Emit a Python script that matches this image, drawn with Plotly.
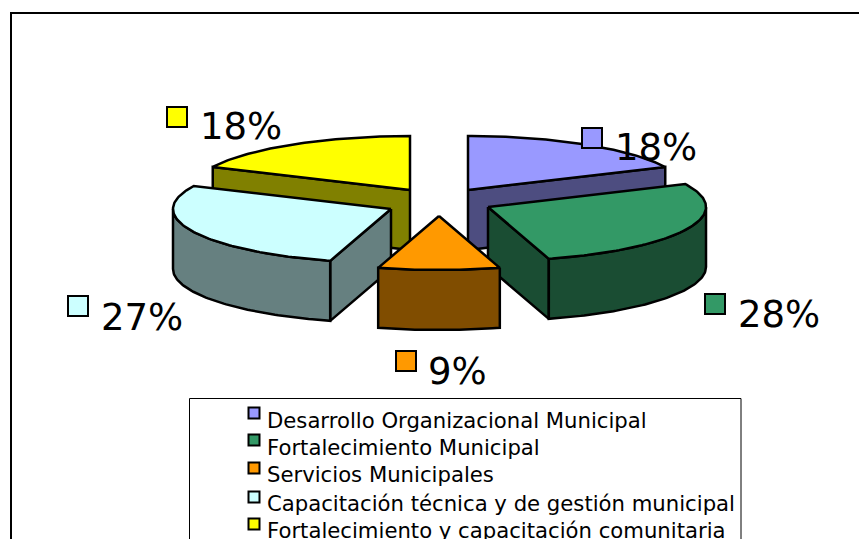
import numpy as np
import plotly.graph_objects as go

categories = ["Desarrollo Organizacional Municipal", "Fortalecimiento Municipal", "Servicios Municipales",
              "Capacitación técnica y de gestión municipal", "Fortalecimiento y capacitación comunitaria"]
percent_labels = ["18%", "28%", "9%", "27%", "18%"]
values = [18, 27.5, 9, 27.5, 18]
top_colors = ["#9999FF", "#339966", "#FF9900", "#CCFFFF", "#FFFF00"]
wall_colors = ["#4D4D80", "#1A4D33", "#804D00", "#668080", "#808000"]

# layout constants (pixel-like plot units)
W, H = 859, 539
RX, RY, DEPTH = 218, 54, 60
apex = [(468, 190), (488, 207), (439, 216), (391, 209), (410, 190)]
label_marker = [(592, 138), (715, 304), (406, 361), (78, 306), (177, 117)]
label_text = [(615, 151), (738, 318), (428, 375), (101, 321), (200, 130)]
legend_marker = [(254, 413), (254, 440), (254, 468), (254, 497), (254, 524)]
legend_text_y = [422.5, 449.5, 476.5, 505.5, 532.5]

fractions = np.array(values) / sum(values)
ends = np.cumsum(fractions) * 360
starts = ends - fractions * 360

def rim(i, a0, a1):
    a = np.radians(np.linspace(a0, a1, max(2, int(a1 - a0) + 2)))
    return apex[i][0] + RX * np.sin(a), apex[i][1] - RY * np.cos(a)

def poly(xs, ys, color):
    return go.Scatter(x=list(xs) + [xs[0]], y=list(ys) + [ys[0]], mode="lines", fill="toself",
                      fillcolor=color, line=dict(color="black", width=2.5), hoverinfo="skip", showlegend=False)

fig = go.Figure()
for i in [4, 0, 3, 1, 2]:  # back to front
    a0, a1 = starts[i], ends[i]
    ax, ay = apex[i]
    # radial faces
    for a, vis in ((a0, 180 < a0 < 360), (a1, 0 < a1 < 180)):
        if vis:
            ex, ey = rim(i, a, a + 1e-6)
            fig.add_trace(poly([ax, ex[0], ex[0], ax], [ay, ey[0], ey[0] + DEPTH, ay + DEPTH], wall_colors[i]))
    # outer wall
    w0, w1 = max(a0, 90), min(a1, 270)
    if w1 > w0:
        x, y = rim(i, w0, w1)
        fig.add_trace(poly(list(x) + list(x[::-1]), list(y) + list(y[::-1] + DEPTH), wall_colors[i]))
    # top
    x, y = rim(i, a0, a1)
    fig.add_trace(poly([ax] + list(x), [ay] + list(y), top_colors[i]))

# percent label keys and texts
for i in [4, 0, 3, 1, 2]:
    fig.add_trace(go.Scatter(x=[label_marker[i][0]], y=[label_marker[i][1]], mode="markers",
                             marker=dict(symbol="square", size=20, color=top_colors[i], line=dict(color="black", width=2)),
                             hoverinfo="skip", showlegend=False))
    fig.add_trace(go.Scatter(x=[label_text[i][0]], y=[label_text[i][1]], mode="text", text=[percent_labels[i]],
                             textposition="middle right", textfont=dict(family="DejaVu Sans", size=37, color="black"),
                             hoverinfo="skip", showlegend=False))

# legend
for i, name in enumerate(categories):
    fig.add_trace(go.Scatter(x=[legend_marker[i][0]], y=[legend_marker[i][1]], mode="markers",
                             marker=dict(symbol="square", size=11, color=top_colors[i], line=dict(color="black", width=2)),
                             hoverinfo="skip", showlegend=False))
    fig.add_trace(go.Scatter(x=[267], y=[legend_text_y[i]], mode="text", text=[name], textposition="middle right",
                             textfont=dict(family="DejaVu Sans", size=21.2, color="black"),
                             hoverinfo="skip", showlegend=False))

fig.update_layout(
    width=W, height=H, margin=dict(l=0, r=0, t=0, b=0), paper_bgcolor="white", plot_bgcolor="white",
    xaxis=dict(range=[0, W], visible=False, fixedrange=True),
    yaxis=dict(range=[H, 0], visible=False, fixedrange=True),
    shapes=[
        dict(type="rect", layer="below", xref="x", yref="y", x0=11, y0=13, x1=W + 20, y1=H + 20, line=dict(color="black", width=2)),
        dict(type="rect", layer="below", xref="x", yref="y", x0=189.5, y0=398.5, x1=741, y1=H + 20, line=dict(color="black", width=1)),
    ],
)
fig.write_html("out.html", config=dict(displayModeBar=False),
               post_script="document.body.style.margin='0';document.documentElement.style.overflow='hidden';")
